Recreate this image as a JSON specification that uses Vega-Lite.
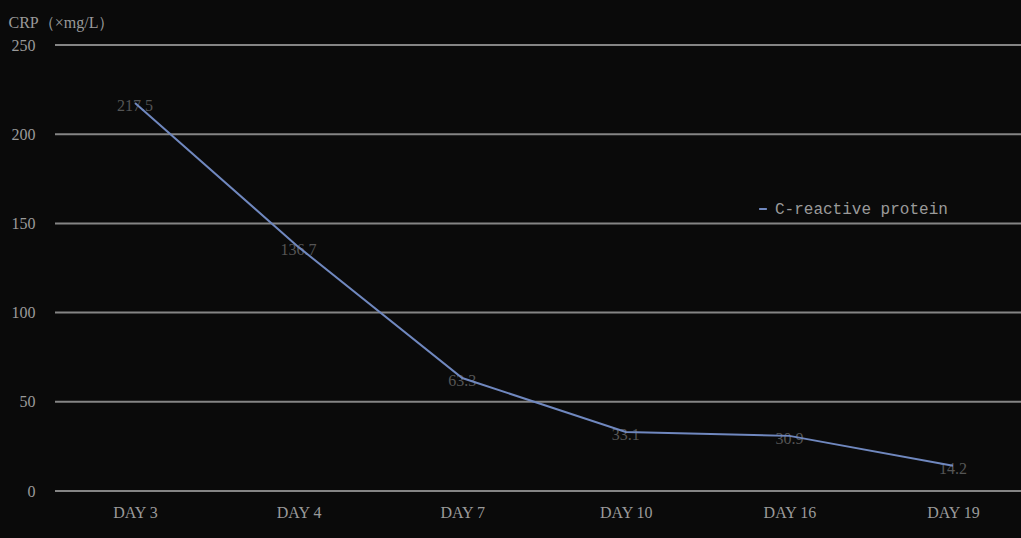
{
  "$schema": "https://vega.github.io/schema/vega-lite/v6.json",
  "width": 966,
  "height": 446,
  "autosize": "none",
  "padding": {"left": 55, "top": 45, "right": 0, "bottom": 47},
  "background": "#0a0a0a",
  "config": {
    "view": {"stroke": null},
    "font": "Liberation Serif"
  },
  "datasets": {
    "crp": [
      {"day": "DAY 3", "crp": 217.5, "label": "217.5", "series": "C-reactive protein"},
      {"day": "DAY 4", "crp": 136.7, "label": "136.7", "series": "C-reactive protein"},
      {"day": "DAY 7", "crp": 63.3, "label": "63.3", "series": "C-reactive protein"},
      {"day": "DAY 10", "crp": 33.1, "label": "33.1", "series": "C-reactive protein"},
      {"day": "DAY 16", "crp": 30.9, "label": "30.9", "series": "C-reactive protein"},
      {"day": "DAY 19", "crp": 14.2, "label": "14.2", "series": "C-reactive protein"}
    ],
    "grid": [{"v": 0}, {"v": 50}, {"v": 100}, {"v": 150}, {"v": 200}, {"v": 250}]
  },
  "layer": [
    {
      "data": {"name": "grid"},
      "mark": {"type": "rule", "color": "#858585", "strokeWidth": 2},
      "encoding": {
        "y": {
          "field": "v",
          "type": "quantitative",
          "scale": {"domain": [0, 250], "nice": false},
          "axis": {
            "values": [0, 50, 100, 150, 200, 250],
            "title": "CRP（×mg/L）",
            "titleAngle": 0,
            "titleAlign": "left",
            "titleBaseline": "middle",
            "titleX": -47,
            "titleY": -23,
            "titleColor": "#9a9a9a",
            "titleFontSize": 16,
            "titleFontWeight": "normal",
            "titleFont": "Liberation Serif",
            "domain": false,
            "ticks": false,
            "grid": false,
            "labelColor": "#9a9a9a",
            "labelFontSize": 16,
            "labelFont": "Liberation Serif",
            "labelPadding": 20
          }
        }
      }
    },
    {
      "data": {"name": "crp"},
      "encoding": {
        "x": {
          "field": "day",
          "type": "ordinal",
          "sort": null,
          "scale": {"type": "point", "range": [80, 898], "padding": 0},
          "axis": {
            "title": null,
            "domain": false,
            "ticks": false,
            "labelAngle": 0,
            "labelColor": "#9a9a9a",
            "labelFontSize": 16,
            "labelFont": "Liberation Serif",
            "labelPadding": 13
          }
        },
        "y": {"field": "crp", "type": "quantitative"}
      },
      "layer": [
        {
          "mark": {"type": "text", "color": "#555555", "fontSize": 16, "font": "Liberation Serif", "baseline": "middle", "dy": 3},
          "encoding": {"text": {"field": "label"}}
        },
        {
          "mark": {"type": "line", "strokeWidth": 2},
          "encoding": {
            "color": {
              "field": "series",
              "type": "nominal",
              "scale": {"range": ["#7088bf"]},
              "legend": {
                "title": null,
                "orient": "none",
                "legendX": 700,
                "legendY": 156,
                "symbolType": "stroke",
                "symbolSize": 60,
                "symbolStrokeWidth": 2,
                "labelColor": "#9a9a9a",
                "labelFont": "Liberation Mono",
                "labelFontSize": 16,
                "labelLimit": 0
              }
            }
          }
        }
      ]
    }
  ]
}
